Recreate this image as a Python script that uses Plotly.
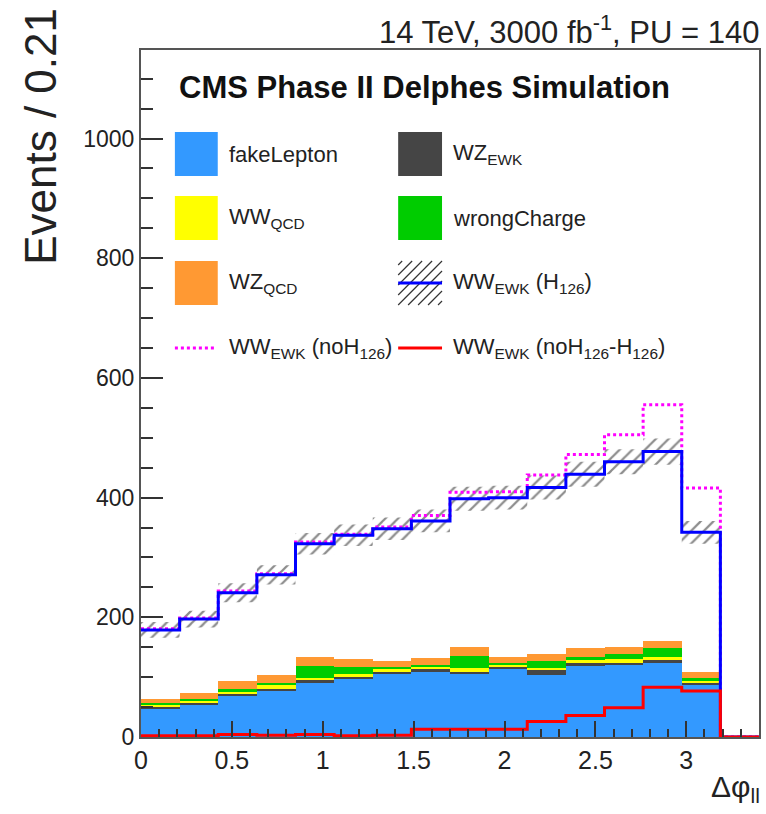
import plotly.graph_objects as go

# ---------------- data ----------------
bin_edges = [0.0, 0.2125, 0.425, 0.6375, 0.85, 1.0625, 1.275, 1.4875, 1.7,
             1.9125, 2.125, 2.3375, 2.55, 2.7625, 2.975, 3.1875, 3.4]

fake_lepton  = [47, 54, 69, 77, 91, 97, 106, 110, 105, 113, 103, 118, 120, 123, 87, 0]
wz_ewk       = [4, 4, 4, 4, 5, 4, 2, 3, 4, 5, 9, 6, 4, 7, 4, 0]
ww_qcd       = [2, 3, 3, 6, 2, 4, 5, 4, 7, 3, 4, 5, 6, 3, 3, 0]
wrong_charge = [4, 2, 4, 3, 20, 12, 4, 3, 20, 3, 11, 5, 8, 15, 5, 0]
wz_qcd       = [7, 10, 14, 13, 16, 14, 10, 12, 15, 10, 11, 14, 13, 12, 9, 0]

ww_ewk_h126    = [179, 197, 241, 271, 323, 337, 348, 361, 398, 400, 417, 439, 460, 477, 342, 0]
ww_ewk_h126_err = [13, 14, 16, 16, 18, 18, 19, 19, 20, 20, 20, 21, 21, 22, 19, 0]
ww_ewk_noh126  = [181, 199, 244, 273, 326, 339, 351, 370, 409, 410, 438, 472, 505, 555, 416, 0]
ww_ewk_diff    = [2, 2, 4, 3, 4, 2, 3, 13, 13, 13, 26, 36, 49, 83, 77, 0]

x_ticks = [0, 0.5, 1, 1.5, 2, 2.5, 3]
x_tick_labels = ["0", "0.5", "1", "1.5", "2", "2.5", "3"]
y_ticks = [0, 200, 400, 600, 800, 1000]
y_tick_labels = ["0", "200", "400", "600", "800", "1000"]

# ---------------- styles ----------------
FONT = "Liberation Sans, Arial, Helvetica, sans-serif"
C_FAKE = "#3399FF"
C_WZEWK = "#454545"
C_WWQCD = "#FFFF00"
C_WRONG = "#00CC00"
C_WZQCD = "#FF9933"
W, H = 766, 814
L, R, T, B = 141, 5, 50, 77

centers = [(bin_edges[i] + bin_edges[i + 1]) / 2 for i in range(len(bin_edges) - 1)]
widths = [bin_edges[i + 1] - bin_edges[i] for i in range(len(bin_edges) - 1)]

fig = go.Figure()

stack = [
    ("fakeLepton", fake_lepton, C_FAKE),
    ("WZ_EWK", wz_ewk, C_WZEWK),
    ("WW_QCD", ww_qcd, C_WWQCD),
    ("wrongCharge", wrong_charge, C_WRONG),
    ("WZ_QCD", wz_qcd, C_WZQCD),
]
for name, vals, col in stack:
    fig.add_trace(go.Bar(x=centers, y=vals, width=widths, name=name,
                         marker=dict(color=col, line=dict(width=0)),
                         showlegend=False, hoverinfo="skip"))


def step(vals):
    return bin_edges, list(vals) + [vals[-1]]


# hatched uncertainty band
up = [v + e for v, e in zip(ww_ewk_h126, ww_ewk_h126_err)]
lo = [v - e for v, e in zip(ww_ewk_h126, ww_ewk_h126_err)]
bx, by = [], []
nb = 15
for i in range(nb):
    bx += [bin_edges[i], bin_edges[i + 1]]
    by += [up[i], up[i]]
for i in reversed(range(nb)):
    bx += [bin_edges[i + 1], bin_edges[i]]
    by += [lo[i], lo[i]]
fig.add_trace(go.Scatter(x=bx, y=by, fill="toself", mode="lines",
                         line=dict(width=0), fillcolor="rgba(0,0,0,0)",
                         fillpattern=dict(shape="/", fgcolor="#1a1a1a",
                                          bgcolor="rgba(0,0,0,0)", size=9, solidity=0.25),
                         showlegend=False, hoverinfo="skip"))

sx, sy = step(ww_ewk_noh126)
fig.add_trace(go.Scatter(x=sx, y=sy, mode="lines", line=dict(color="#FF00FF", width=3, dash="dot", shape="hv"),
                         showlegend=False, hoverinfo="skip"))
sx, sy = step(ww_ewk_h126)
fig.add_trace(go.Scatter(x=sx, y=sy, mode="lines", line=dict(color="#0000FF", width=3, shape="hv"),
                         showlegend=False, hoverinfo="skip"))
sx, sy = step(ww_ewk_diff)
fig.add_trace(go.Scatter(x=sx, y=sy, mode="lines", line=dict(color="#FF0000", width=3, shape="hv"),
                         showlegend=False, hoverinfo="skip"))

pw = W - L - R
ph = H - T - B


def px(x):
    return (x - L) / pw


def py(y):
    return (H - B - y) / ph


shapes = []
annotations = []

# legend
rows = [154, 218, 283, 348]
col_box = [(175, 218), (399, 443)]
col_txt = [227, 452]
box_entries = [
    (0, 0, C_FAKE, "fakeLepton"),
    (0, 1, C_WZEWK, "WZ<sub>EWK</sub>"),
    (1, 0, C_WWQCD, "WW<sub>QCD</sub>"),
    (1, 1, C_WRONG, "wrongCharge"),
    (2, 0, C_WZQCD, "WZ<sub>QCD</sub>"),
]
for r, c, col, txt in box_entries:
    x0, x1 = col_box[c]
    yc = rows[r]
    shapes.append(dict(type="rect", xref="paper", yref="paper", x0=px(x0), x1=px(x1),
                       y0=py(yc + 22), y1=py(yc - 22), fillcolor=col, line=dict(width=0)))
    annotations.append(dict(text=txt, x=px(col_txt[c]), y=py(yc), xref="paper", yref="paper",
                            xanchor="left", yanchor="middle", showarrow=False,
                            font=dict(family=FONT, size=22, color="#222")))

# hatch legend box
x0, x1 = col_box[1]
yc = rows[2]
for k in range(-4, 5):
    ax0 = x0 + k * 10
    ay0 = yc + 22
    ax1 = ax0 + 44
    ay1 = yc - 22
    cx0, cy0, cx1, cy1 = ax0, ay0, ax1, ay1
    if cx0 < x0:
        cy0 -= (x0 - cx0); cx0 = x0
    if cx1 > x1:
        cy1 += (cx1 - x1); cx1 = x1
    if cx1 - cx0 > 2:
        shapes.append(dict(type="line", xref="paper", yref="paper", x0=px(cx0), y0=py(cy0),
                           x1=px(cx1), y1=py(cy1), line=dict(color="#333", width=1.2)))
shapes.append(dict(type="line", xref="paper", yref="paper", x0=px(x0), x1=px(x1), y0=py(yc), y1=py(yc),
                   line=dict(color="#0000FF", width=3)))
annotations.append(dict(text="WW<sub>EWK</sub> (H<sub>126</sub>)", x=px(col_txt[1]), y=py(yc),
                        xref="paper", yref="paper", xanchor="left", yanchor="middle", showarrow=False,
                        font=dict(family=FONT, size=22, color="#222")))

yc = rows[3]
shapes.append(dict(type="line", xref="paper", yref="paper", x0=px(175), x1=px(215), y0=py(yc), y1=py(yc),
                   line=dict(color="#FF00FF", width=3, dash="dot")))
annotations.append(dict(text="WW<sub>EWK</sub> (noH<sub>126</sub>)", x=px(col_txt[0]), y=py(yc),
                        xref="paper", yref="paper", xanchor="left", yanchor="middle", showarrow=False,
                        font=dict(family=FONT, size=22, color="#222")))
shapes.append(dict(type="line", xref="paper", yref="paper", x0=px(399), x1=px(443), y0=py(yc), y1=py(yc),
                   line=dict(color="#FF0000", width=3)))
annotations.append(dict(text="WW<sub>EWK</sub> (noH<sub>126</sub>-H<sub>126</sub>)", x=px(col_txt[1]), y=py(yc),
                        xref="paper", yref="paper", xanchor="left", yanchor="middle", showarrow=False,
                        font=dict(family=FONT, size=22, color="#222")))

# texts
annotations.append(dict(text="CMS Phase II Delphes Simulation", x=px(177), y=py(87), xref="paper", yref="paper",
                        xanchor="left", yanchor="middle", showarrow=False,
                        font=dict(family=FONT, size=31, color="#111", weight="bold")))
annotations.append(dict(text="14 TeV, 3000 fb<sup>-1</sup>, PU = 140", x=px(763), y=py(30), xref="paper", yref="paper",
                        xanchor="right", yanchor="middle", showarrow=False,
                        font=dict(family=FONT, size=31, color="#222")))
annotations.append(dict(text="Events / 0.21", x=px(40), y=py(6), xref="paper", yref="paper",
                        xanchor="center", yanchor="top", textangle=-90, showarrow=False,
                        font=dict(family=FONT, size=44, color="#222")))
annotations.append(dict(text="Δφ<sub>ll</sub>", x=px(764), y=py(788), xref="paper", yref="paper",
                        xanchor="right", yanchor="middle", showarrow=False,
                        font=dict(family=FONT, size=30, color="#222")))

fig.update_layout(
    width=W, height=H,
    margin=dict(l=L, r=R, t=T, b=B, pad=0),
    paper_bgcolor="white", plot_bgcolor="white",
    barmode="stack", bargap=0,
    shapes=shapes, annotations=annotations,
    showlegend=False,
    font=dict(family=FONT, color="#222"),
)
fig.update_xaxes(range=[0, 3.4], tickvals=x_ticks, ticktext=x_tick_labels,
                 ticks="inside", ticklen=16, tickwidth=1.5, tickcolor="#333",
                 minor=dict(dtick=0.1, tick0=0, ticks="inside", ticklen=8, tickwidth=1.5, tickcolor="#333"),
                 showline=True, linecolor="#555", linewidth=2, mirror=True,
                 showgrid=False, zeroline=False,
                 tickfont=dict(family=FONT, size=25, color="#222"))
fig.update_yaxes(range=[0, 1148], tickvals=y_ticks, ticktext=y_tick_labels,
                 ticks="inside", ticklen=22, tickwidth=1.5, tickcolor="#333",
                 minor=dict(dtick=50, tick0=0, ticks="inside", ticklen=12, tickwidth=1.5, tickcolor="#333"),
                 showline=True, linecolor="#555", linewidth=2, mirror=True,
                 showgrid=False, zeroline=False,
                 tickfont=dict(family=FONT, size=23, color="#222"))

fig.write_html("out.html")
